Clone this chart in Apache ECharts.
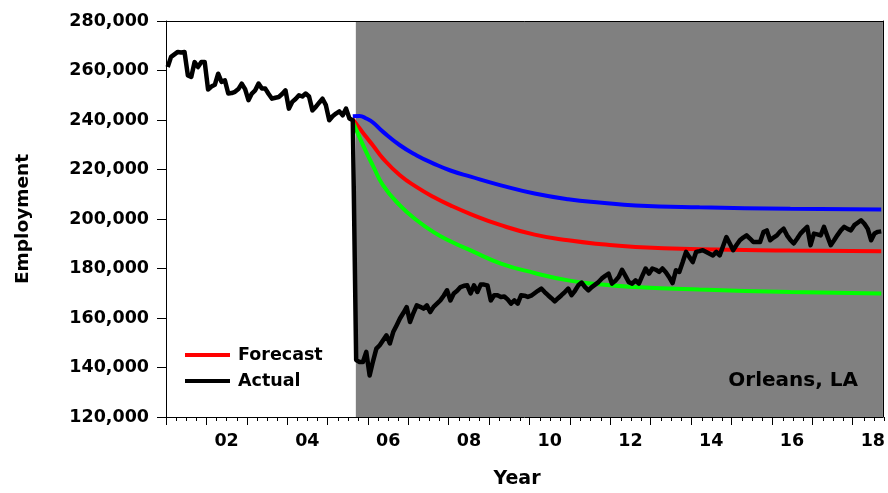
<!DOCTYPE html>
<html><head><meta charset="utf-8">
<script src="https://cdn.jsdelivr.net/npm/echarts@6/dist/echarts.min.js"></script>
<style>html,body{margin:0;padding:0;background:#fff}#c{width:888px;height:493px}</style>
</head><body><div id="c"></div>
<script>
// ---- data (monthly, starting January 2001) ----
const startYear = 2001;
const endYear = 2018.75;
const actual = [
261400,265500,266500,267500,267300,267500,258000,257400,263400,261400,263400,263400,
252300,253500,254200,258700,255400,256000,250700,250900,251400,252500,254700,252500,
248000,250700,252000,254700,252700,252700,250500,248600,249000,249300,250500,252000,
244600,247300,248500,250000,249500,250700,249500,243900,245300,247000,248600,246000,
239900,241500,242600,243500,241900,244600,240600,239900,
143000,142200,142200,146300,136800,142500,147600,149000,151000,153000,149700,154300,
157000,159800,162000,164400,158400,162000,165100,164500,163800,165100,162400,164500,
165800,167100,169000,171200,167100,169900,171000,172500,173000,173200,169900,173200,
170500,173500,173500,173200,167100,169200,169200,168500,168700,167500,165800,167100,
165800,169200,169000,168500,169000,170000,171000,171900,170500,169200,168000,166700,
168000,169200,170500,171900,169200,171000,173200,174300,172500,171200,172500,173500,
174500,176000,177000,177900,173900,175000,176600,179500,177000,174500,173900,175200,
173900,177000,180000,177900,180000,179500,178600,180000,178500,176500,174100,179300,
178600,182500,186700,184600,182600,186700,187000,187400,186700,186000,185300,186700,
185300,189000,192700,190100,187400,189500,191400,192500,193400,192100,190700,190700,
190700,194700,195400,191400,192500,193400,195000,196100,193400,191500,190100,192000,
194100,195500,196800,189400,194100,193800,193400,196800,193000,189400,191400,193500,
195400,196800,196000,195400,197500,198500,199500,198100,196000,191400,194100,194800,195000
];
// forecast points: month index (0 = Jan 2001)
const forecastMonths = [55,57,59,61,64,69,74,79,84,90,99,109,119,129,139,158,185,212];
const forecastUpper = [241500,241600,240600,239000,235200,229800,225700,222400,219600,217100,213600,210300,208000,206600,205500,204700,204100,203800];
const forecastMid   = [240300,236700,233100,229700,224400,217700,212900,208900,205500,202000,197500,193700,191400,189800,188700,187800,187300,187000];
const forecastLower = [239300,233000,227000,221500,213600,205500,199500,194700,191000,187300,182000,178200,175200,173500,172500,171500,170500,169900];
const shadeStart = 2005.7;
const yearTicks = [2001,2002,2003,2004,2005,2006,2007,2008,2009,2010,2011,2012,2013,2014,2015,2016,2017,2018];
const labelYears = [2002,2004,2006,2008,2010,2012,2014,2016,2018];
const xTickLabels = ['02','04','06','08','10','12','14','16','18'];
const yMin = 120000, yMax = 280000, yStep = 20000;
const placeLabel = 'Orleans, LA';

// ---- helpers ----
const FONT = 'DejaVu Sans';
const monthToYear = i => startYear + (i + 0.5) / 12;
const labelPos = labelYears.map(y => y + 0.5);
const quarterTicks = [];
yearTicks.forEach(y => [0.25, 0.5, 0.75].forEach(q => { if (y + q <= endYear) quarterTicks.push(y + q); }));

const actualData = actual.map((v, i) => [monthToYear(i), v]);
const mk = arr => forecastMonths.map((m, k) => [monthToYear(m), arr[k]]);

const chart = echarts.init(document.getElementById('c'), null, {renderer: 'canvas'});
const gridPos = {left: 166, right: 4, top: 21, bottom: 76};
const axisLineStyle = {color: '#000', width: 1};
const labelFont = {fontFamily: FONT, fontWeight: 'bold', fontSize: 17.5, color: '#000'};

chart.setOption({
  animation: false,
  backgroundColor: '#fff',
  grid: [Object.assign({show: false}, gridPos), Object.assign({show: false}, gridPos)],
  xAxis: [
    {
      type: 'value', gridIndex: 0, position: 'bottom', min: startYear, max: endYear, z: 10,
      axisLine: {show: true, lineStyle: axisLineStyle},
      axisTick: {show: true, inside: false, length: 8, lineStyle: axisLineStyle, customValues: yearTicks},
      axisLabel: Object.assign({show: true, margin: 15, customValues: labelPos,
        formatter: v => xTickLabels[labelPos.findIndex(p => Math.abs(p - v) < 1e-6)] || ''}, labelFont),
      splitLine: {show: false}
    },
    {
      type: 'value', gridIndex: 0, position: 'top', min: startYear, max: endYear, z: 10,
      axisLine: {show: true, lineStyle: axisLineStyle},
      axisTick: {show: false}, axisLabel: {show: false}, splitLine: {show: false}
    },
    {
      type: 'value', gridIndex: 1, position: 'bottom', min: startYear, max: endYear, z: 10,
      axisLine: {show: false},
      axisTick: {show: true, inside: false, length: 4, lineStyle: axisLineStyle, customValues: quarterTicks},
      axisLabel: {show: false}, splitLine: {show: false}
    }
  ],
  yAxis: [
    {
      type: 'value', gridIndex: 0, position: 'left', min: yMin, max: yMax, interval: yStep, z: 10,
      axisLine: {show: true, lineStyle: axisLineStyle},
      axisTick: {show: true, inside: false, length: 9, lineStyle: axisLineStyle},
      axisLabel: Object.assign({margin: 17, formatter: v => v.toLocaleString('en-US')}, labelFont),
      splitLine: {show: false}
    },
    {
      type: 'value', gridIndex: 0, position: 'right', min: yMin, max: yMax, interval: yStep, z: 10,
      axisLine: {show: true, lineStyle: axisLineStyle},
      axisTick: {show: false}, axisLabel: {show: false}, splitLine: {show: false}
    },
    {
      type: 'value', gridIndex: 1, min: yMin, max: yMax, show: false
    }
  ],
  legend: {
    orient: 'vertical', left: 185, top: 346, padding: 0, itemWidth: 45, itemHeight: 4, itemGap: 8,
    icon: 'rect', selectedMode: false, data: ['Forecast', 'Actual'],
    textStyle: Object.assign({padding: [0, 0, 0, 3]}, labelFont)
  },
  series: [
    {
      name: 'Upper', type: 'line', xAxisIndex: 0, yAxisIndex: 0, data: mk(forecastUpper),
      symbol: 'none', smooth: 0.5, lineStyle: {color: '#0000ff', width: 4}, itemStyle: {color: '#0000ff'},
      markArea: {silent: true, itemStyle: {color: '#808080', opacity: 1}, data: [[{xAxis: shadeStart}, {xAxis: endYear}]]}
    },
    {
      name: 'Forecast', type: 'line', xAxisIndex: 0, yAxisIndex: 0, data: mk(forecastMid),
      symbol: 'none', smooth: 0.5, lineStyle: {color: '#ff0000', width: 4}, itemStyle: {color: '#ff0000'}
    },
    {
      name: 'Lower', type: 'line', xAxisIndex: 0, yAxisIndex: 0, data: mk(forecastLower),
      symbol: 'none', smooth: 0.5, lineStyle: {color: '#00ff00', width: 4}, itemStyle: {color: '#00ff00'}
    },
    {
      name: 'Actual', type: 'line', xAxisIndex: 0, yAxisIndex: 0, data: actualData,
      symbol: 'none', lineStyle: {color: '#000000', width: 4.5, join: 'round'}, itemStyle: {color: '#000000'}
    }
  ],
  graphic: [
    {type: 'text', x: 517, y: 479, z: 100, style: {text: 'Year', font: 'bold 19px "DejaVu Sans"', fill: '#000', align: 'center', verticalAlign: 'middle'}},
    {type: 'text', x: 23, y: 219, rotation: Math.PI / 2, z: 100, style: {text: 'Employment', font: 'bold 18.5px "DejaVu Sans"', fill: '#000', align: 'center', verticalAlign: 'middle'}},
    {type: 'text', x: 858, y: 381, z: 100, style: {text: placeLabel, font: 'bold 20px "DejaVu Sans"', fill: '#000', align: 'right', verticalAlign: 'middle'}}
  ]
});
</script></body></html>
